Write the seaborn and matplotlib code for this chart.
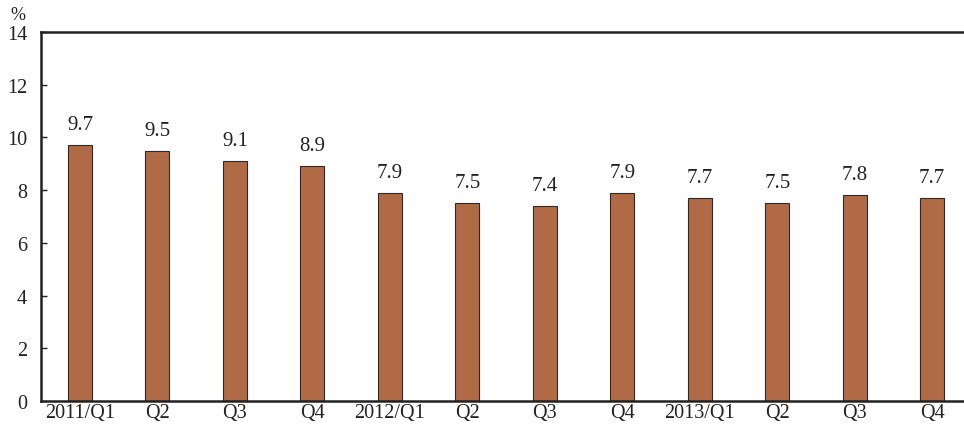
import matplotlib
matplotlib.use("Agg")
import matplotlib.pyplot as plt
import seaborn as sns
import pandas as pd

categories = ["2011/Q1", "Q2", "Q3", "Q4", "2012/Q1", "Q2 ", "Q3 ", "Q4 ",
              "2013/Q1", "Q2  ", "Q3  ", "Q4  "]
values = [9.7, 9.5, 9.1, 8.9, 7.9, 7.5, 7.4, 7.9, 7.7, 7.5, 7.8, 7.7]
labels = ["9.7", "9.5", "9.1", "8.9", "7.9", "7.5", "7.4", "7.9", "7.7", "7.5", "7.8", "7.7"]
yticks = [0, 2, 4, 6, 8, 10, 12, 14]

sns.set_theme(style="white")
plt.rcParams['font.family'] = ['Liberation Serif', 'DejaVu Serif']

df = pd.DataFrame({"cat": categories, "val": values})

fig = plt.figure(figsize=(9.64, 4.27), dpi=100)
ax = fig.add_axes([41/964, 25/427, 1 - 41/964, (402-33)/427])

sns.barplot(data=df, x="cat", y="val", ax=ax, color="#B06A45", width=0.31,
            edgecolor="#2a2a2a", linewidth=0.8, saturation=1)

for i, (v, t) in enumerate(zip(values, labels)):
    ax.annotate(t, (i, v), xytext=(0, 11.5), textcoords="offset points",
                ha="center", va="baseline", fontsize=15, color="#222222")

ax.set_xlim(-0.503, 11.41)
ax.set_ylim(0, 14)
ax.set_yticks(yticks)
ax.set_yticklabels([str(t) for t in yticks], fontsize=14.5, color="#222222")
ax.set_xticks(range(len(categories)))
ax.set_xticklabels([c.strip() for c in categories], fontsize=14.5, color="#222222")
ax.tick_params(axis="y", direction="in", length=4, width=1, left=True, pad=10, colors="#222222")
ax.tick_params(axis="x", length=0, pad=1.5)
ax.set_xlabel("")
ax.set_ylabel("")
for s in ["left", "top", "bottom"]:
    ax.spines[s].set_visible(True)
    ax.spines[s].set_linewidth(1.8)
    ax.spines[s].set_color("#222222")
ax.spines["right"].set_visible(False)
for lab in ax.get_yticklabels():
    lab.set_color("#222222")

fig.text(10/964, 1 - 15/427, "%", fontsize=13, ha="left", va="center", color="#222222")

fig.savefig("out.png", dpi=100)
